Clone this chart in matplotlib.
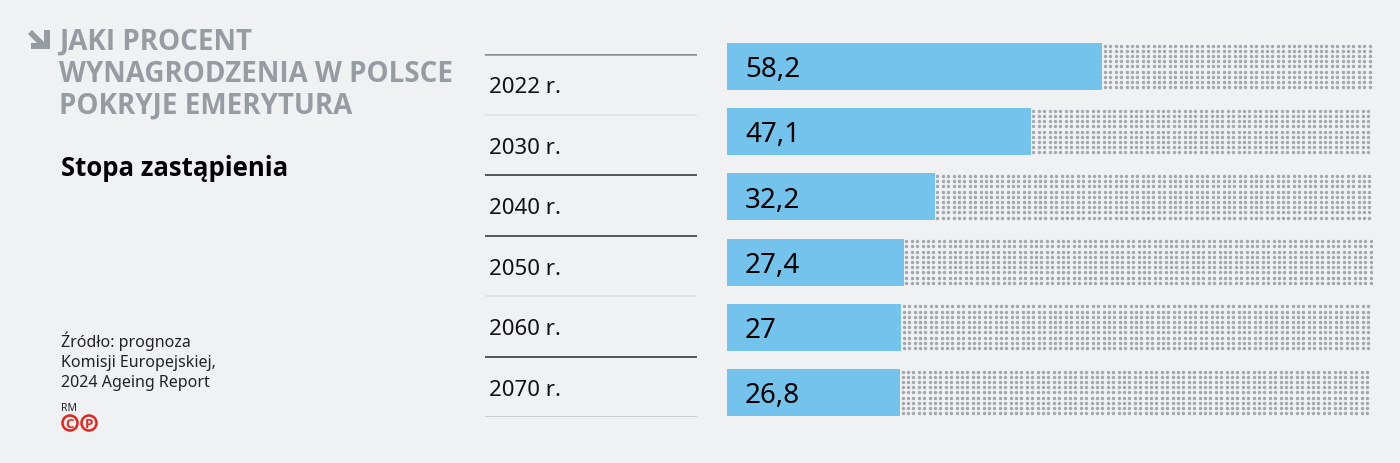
import numpy as np
import matplotlib
matplotlib.use("Agg")
import matplotlib.pyplot as plt
from matplotlib.patches import Circle, Polygon

years = ["2022 r.", "2030 r.", "2040 r.", "2050 r.", "2060 r.", "2070 r."]
values = [58.2, 47.1, 32.2, 27.4, 27.0, 26.8]
value_labels = ["58,2", "47,1", "32,2", "27,4", "27", "26,8"]

title_lines = ["JAKI PROCENT", "WYNAGRODZENIA W POLSCE", "POKRYJE EMERYTURA"]
subtitle = "Stopa zastąpienia"
source_lines = ["Źródło: prognoza", "Komisji Europejskiej,", "2024 Ageing Report"]

BG = "#eff1f3"
BAR = "#74c3ec"
DOT = "#a3a7ab"
TITLE_C = "#979ca2"

plt.rcParams["font.family"] = ["Noto Sans", "DejaVu Sans"]

W, H = 1400, 464
fig = plt.figure(figsize=(W / 100, H / 100), dpi=100, facecolor=BG)

# overlay in pixel coordinates for the side texts
ov = fig.add_axes([0, 0, 1, 1])
ov.set_xlim(0, W)
ov.set_ylim(H, 0)
ov.axis("off")

# arrow icon
ov.add_patch(Polygon([(44, 31), (50, 31), (50, 50), (31, 50), (31, 44), (44, 44)],
                     closed=True, color=TITLE_C, lw=0))
ov.add_patch(Polygon([(28, 35), (32, 31), (47, 46), (43, 50)],
                     closed=True, color=TITLE_C, lw=0))

for i, line in enumerate(title_lines):
    ov.text(59, 50 + i * 32, line, fontsize=20, fontweight="bold",
            color=TITLE_C, family=["Open Sans", "DejaVu Sans"], va="baseline")
ov.text(61, 176, subtitle, fontsize=18.5, fontweight="bold", color="black",
        family=["Open Sans", "DejaVu Sans"], va="baseline")

for i, line in enumerate(source_lines):
    ov.text(61, 347 + i * 20, line, fontsize=11.5, color="#222222", va="baseline")
ov.text(61, 411, "RM", fontsize=7.5, color="#222222", va="baseline")
for cx, ch in [(70, "C"), (89, "P")]:
    ov.add_patch(Circle((cx, 424), 7.5, fill=False, ec="#e3241b", lw=1.8))
    ov.text(cx, 424.5, ch, fontsize=9.5, fontweight="bold", color="#e3241b",
            family=["Open Sans", "DejaVu Sans"], ha="center", va="center")

# label column with separators
la = fig.add_axes([485 / W, (H - 418) / H, 212 / W, 363 / H])
la.set_xlim(0, 1)
la.set_ylim(len(years), 0)
la.axis("off")
sep_colors = ["#8c8c8c", "#dfe1e3", "#3a3a3a", "#3a3a3a", "#dfe1e3", "#3a3a3a", "#c4c6c8"]
for k in range(len(years) + 1):
    la.axhline(k, color=sep_colors[k], lw=1.8 if k == 0 else 1.2)
for i, y in enumerate(years):
    la.text(0.02, i + 0.54, y, fontsize=16, va="center", ha="left", color="#111111")

# bars
ax = fig.add_axes([727 / W, (H - 417) / H, 645 / W, 373 / H])
ax.set_xlim(0, 100)
ax.set_ylim(len(years) - 0.64, -0.36)
ax.axis("off")
pos = np.arange(len(years))
ax.barh(pos, values, height=0.72, color=BAR, lw=0)

# dotted remainder up to 100%
dx = 5.4 * 100 / 645
dy = 5.2 / 65.2
for p, v in zip(pos, values):
    xs = np.arange(v + dx * 0.5, 100, dx)
    ys = np.arange(p - 0.36 + dy * 0.5, p + 0.36, dy)
    gx, gy = np.meshgrid(xs, ys)
    ax.scatter(gx.ravel(), gy.ravel(), marker="o", s=6.0, color=DOT, lw=0)

for p, lab in zip(pos, value_labels):
    ax.annotate(lab, (0, p), xytext=(13, -2), textcoords="offset points",
                fontsize=20, va="center", ha="left", color="black")

fig.savefig("out.png", dpi=100, facecolor=BG)
